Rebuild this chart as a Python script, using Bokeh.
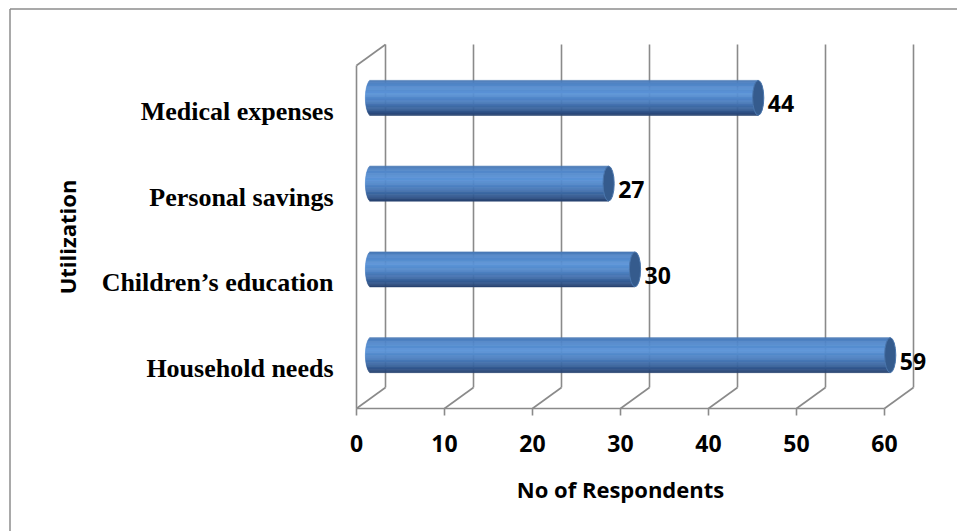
import numpy as np
from bokeh.plotting import figure
from bokeh.models import Range1d, ColumnDataSource
from bokeh.core.properties import value
from bokeh.embed import file_html
from bokeh.resources import INLINE

# ---- data ----
categories = ["Household needs", "Children\u2019s education", "Personal savings", "Medical expenses"]
respondents = [59, 30, 27, 44]
x_ticks = [0, 10, 20, 30, 40, 50, 60]
x_title = "No of Respondents"
y_title = "Utilization"

# ---- geometry / style (pixel scale: 8.8 px per unit in x, 85.75 px per category) ----
PXX = 8.8
PXY = 85.75
DX = 29 / PXX          # depth offset in x (data units)
DY = 21 / PXY          # depth offset in y (data units)
W, H = 957, 531
x0_px, y0_px = 356, 408   # origin in figure pixels
xr = Range1d(-x0_px / PXX, (W - x0_px) / PXX)
yr = Range1d(-(H - y0_px) / PXY, y0_px / PXY)

p = figure(width=W, height=H, x_range=xr, y_range=yr, output_backend="svg",
           toolbar_location=None, min_border=0, outline_line_color=None,
           background_fill_color="white", border_fill_color="white")
p.axis.visible = False
p.grid.visible = False

GRID = "#8a8a8a"
SANS = value("Open Sans")
ncat = len(categories)
xmax = x_ticks[-1]

# outer chart border (left and top edges visible)
bx = xr.start + 9.5 / PXX
by = yr.end - 8.5 / PXY
p.line([bx, bx], [yr.start, by], line_color="#8c8c8c", line_width=1.5)
p.line([bx, xr.end], [by, by], line_color="#8c8c8c", line_width=1.5)

# back wall gridlines and floor diagonals
for t in x_ticks:
    p.line([t + DX, t + DX], [DY, ncat + DY], line_color=GRID, line_width=1.6)
    p.line([t, t + DX], [0, DY], line_color=GRID, line_width=1.6)
    p.line([t, t], [0, -7 / PXY], line_color=GRID, line_width=1.6)
# front axis line, left wall
p.line([0, xmax], [0, 0], line_color=GRID, line_width=1.6)
p.line([0, 0], [0, ncat], line_color=GRID, line_width=1.6)
p.line([0, DX], [ncat, ncat + DY], line_color=GRID, line_width=1.6)

# ---- cylinders ----
bar_h = 35 / PXY
cap_a = 5.6 / PXX
nstrip = 30
stops = [0.0, 0.12, 0.38, 0.6, 0.8, 0.93, 1.0]
cols = ["#4876b3", "#5287c9", "#5b94d8", "#4d80c1", "#3b66a0", "#2e5084", "#26426c"]
rgb = np.array([[int(c[i:i + 2], 16) for i in (1, 3, 5)] for c in cols], dtype=float)

L, R, B, T, C = [], [], [], [], []
for i, v in enumerate(respondents):
    yc = i + 0.5 + DY / 2
    xs = DX / 2
    for k in range(nstrip):
        f0, f1 = k / nstrip, (k + 1) / nstrip
        fm = (f0 + f1) / 2
        dy = (0.5 - fm) * bar_h
        half = cap_a * np.sqrt(max(0.0, 1 - (2 * dy / bar_h) ** 2))
        col = [np.interp(fm, stops, rgb[:, j]) for j in range(3)]
        L.append(xs - half)
        R.append(xs + v)
        T.append(yc + bar_h / 2 - f0 * bar_h)
        B.append(yc + bar_h / 2 - f1 * bar_h)
        C.append("#%02x%02x%02x" % tuple(int(round(c)) for c in col))
src = ColumnDataSource(dict(left=L, right=R, bottom=B, top=T, color=C))
p.quad(left="left", right="right", bottom="bottom", top="top", fill_color="color",
       line_color="color", line_width=0.6, source=src)

cap_x = [DX / 2 + v for v in respondents]
cap_y = [i + 0.5 + DY / 2 for i in range(ncat)]
p.ellipse(x=cap_x, y=cap_y, width=2 * cap_a, height=bar_h, fill_color="#355b8d",
          line_color="#4a76ad", line_width=1)

# data labels
lab_x = [DX / 2 + v + cap_a + 4 / PXX for v in respondents]
lab_y = [i + 0.5 + DY / 2 - 6 / PXY for i in range(ncat)]
p.text(x=lab_x, y=lab_y, text=[str(v) for v in respondents], text_font=SANS,
       text_font_style="bold", text_font_size="23px", text_color="black",
       text_align="left", text_baseline="middle")

# category labels
p.text(x=[-23 / PXX] * ncat, y=[i + 0.5 - 3 / PXY for i in range(ncat)], text=categories,
       text_font=value("Liberation Serif"), text_font_style="bold", text_font_size="26px",
       text_color="black", text_align="right", text_baseline="middle")

# tick labels
p.text(x=x_ticks, y=[-35 / PXY] * len(x_ticks), text=[str(t) for t in x_ticks],
       text_font=SANS, text_font_style="bold", text_font_size="23px",
       text_color="black", text_align="center", text_baseline="middle")

# axis titles
p.text(x=[xmax / 2], y=[-80 / PXY], text=[x_title], text_font=SANS,
       text_font_style="bold", text_font_size="22px", text_color="black",
       text_align="center", text_baseline="middle")
p.text(x=[-290 / PXX], y=[ncat / 2], text=[y_title], text_font=SANS,
       text_font_style="bold", text_font_size="22px", text_color="black",
       text_align="center", text_baseline="middle", angle=np.pi / 2)

open("out.html", "w").write(file_html(p, INLINE))
